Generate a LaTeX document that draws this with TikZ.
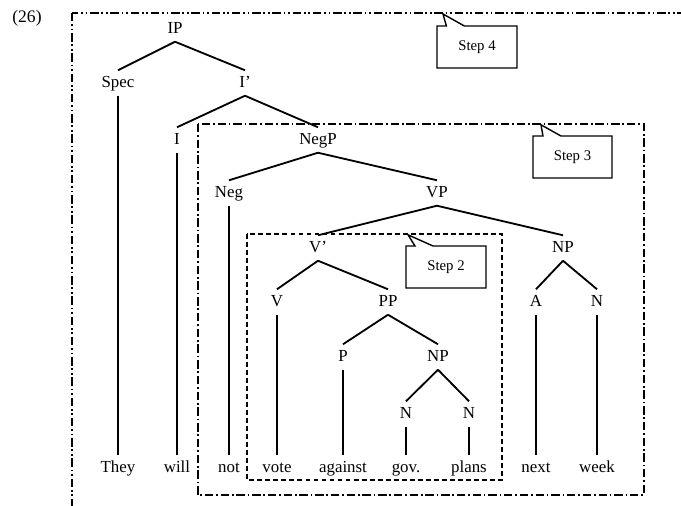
\documentclass[tikz,border=0pt]{standalone}
\usepackage{fontspec}
\setmainfont{Liberation Serif}
\usetikzlibrary{positioning,shapes.callouts}

\begin{document}
\begin{tikzpicture}[node distance=1.35cm,
    cat/.style={inner xsep=1pt, inner ysep=4.5pt, text height=1.6ex, text depth=0.3ex, font=\fontsize{12}{14}\selectfont},
    branch/.style={line width=1.3pt},
    stepnote/.style={rectangle callout, draw, line width=1pt, minimum width=2cm, minimum height=1.05cm, callout pointer width=0.45cm, font=\fontsize{10.5}{12}\selectfont},
    stepfourbox/.style={line width=1.4pt, dash pattern=on 6pt off 2pt on 1.2pt off 2pt on 1.2pt off 2pt},
    stepthreebox/.style={line width=1.3pt, dash pattern=on 6pt off 2pt on 1.2pt off 2pt},
    steptwobox/.style={line width=1.2pt, dash pattern=on 3.5pt off 2.2pt}]

\useasboundingbox (0,0) rectangle (17.025,-12.65);
\clip (0,0) rectangle (17.025,-12.65);

% Example number and root
\node[font=\fontsize{12.5}{14}\selectfont] (ex) at (0.675,-0.45) {(26)};
\node[cat] (IP) at (4.375,-0.725) {IP};

% IP and I' levels
\node[cat, below of=IP, xshift=-1.425cm] (Spec) {Spec};
\node[cat, below of=IP, xshift=1.75cm] (Ibar) {I'};
\node[cat, below of=Ibar, node distance=1.425cm, xshift=-1.7cm] (I) {I};
\node[cat, below of=Ibar, node distance=1.425cm, xshift=1.825cm] (NegP) {NegP};

% NegP and VP
\node[cat, below of=NegP, node distance=1.325cm, xshift=-2.225cm] (Neg) {Neg};
\node[cat, below of=NegP, node distance=1.325cm, xshift=2.975cm] (VP) {VP};
\node[cat, below of=VP, node distance=1.375cm, xshift=-2.975cm] (Vbar) {V'};
\node[cat, below of=VP, node distance=1.375cm, xshift=3.15cm] (NPtime) {NP};

% V' and time NP
\node[cat, below of=Vbar, xshift=-1.025cm] (V) {V};
\node[cat, below of=Vbar, xshift=1.75cm] (PP) {PP};
\node[cat, below of=NPtime, xshift=-0.675cm] (A) {A};
\node[cat, below of=NPtime, xshift=0.85cm] (Nweek) {N};

% PP
\node[cat, below of=PP, node distance=1.375cm, xshift=-1.125cm] (P) {P};
\node[cat, below of=PP, node distance=1.375cm, xshift=1.25cm] (NPplans) {NP};
\node[cat, below of=NPplans, node distance=1.425cm, xshift=-0.8cm] (Ngov) {N};
\node[cat, below of=NPplans, node distance=1.425cm, xshift=0.775cm] (Nplans) {N};

% Words
\node[cat, below of=Spec, node distance=9.625cm] (they) {They};
\node[cat, below of=I, node distance=8.2cm] (will) {will};
\node[cat, below of=Neg, node distance=6.875cm] (not) {not};
\node[cat, below of=V, node distance=4.15cm] (vote) {vote};
\node[cat, below of=P, node distance=2.775cm] (against) {against};
\node[cat, below of=Ngov] (gov) {gov.};
\node[cat, below of=Nplans] (plans) {plans};
\node[cat, below of=A, node distance=4.15cm] (next) {next};
\node[cat, below of=Nweek, node distance=4.15cm] (week) {week};

% Branches
\draw[branch] (IP.south) -- (Spec.north);
\draw[branch] (IP.south) -- (Ibar.north);
\draw[branch] (Ibar.south) -- (I.north);
\draw[branch] (Ibar.south) -- (NegP.north);
\draw[branch] (NegP.south) -- (Neg.north);
\draw[branch] (NegP.south) -- (VP.north);
\draw[branch] (VP.south) -- (Vbar.north);
\draw[branch] (VP.south) -- (NPtime.north);
\draw[branch] (Vbar.south) -- (V.north);
\draw[branch] (Vbar.south) -- (PP.north);
\draw[branch] (NPtime.south) -- (A.north);
\draw[branch] (NPtime.south) -- (Nweek.north);
\draw[branch] (PP.south) -- (P.north);
\draw[branch] (PP.south) -- (NPplans.north);
\draw[branch] (NPplans.south) -- (Ngov.north);
\draw[branch] (NPplans.south) -- (Nplans.north);

% Lines down to the words
\draw[branch] (Spec.south) -- (they.north);
\draw[branch] (I.south) -- (will.north);
\draw[branch] (Neg.south) -- (not.north);
\draw[branch] (V.south) -- (vote.north);
\draw[branch] (P.south) -- (against.north);
\draw[branch] (Ngov.south) -- (gov.north);
\draw[branch] (Nplans.south) -- (plans.north);
\draw[branch] (A.south) -- (next.north);
\draw[branch] (Nweek.south) -- (week.north);

% Step boxes
\draw[stepfourbox] (1.8,-0.325) rectangle (17.6,-13.2);
\draw[stepthreebox] (4.95,-3.1) rectangle (16.1,-12.375);
\draw[steptwobox] (6.175,-5.85) rectangle (12.55,-12.0);

% Callouts
\node[stepnote, callout absolute pointer={(11.075,-0.35)}] (stepfour) at (11.925,-1.175) {Step 4};
\node[stepnote, minimum width=1.975cm, callout absolute pointer={(13.525,-3.12)}] (stepthree) at (14.3125,-3.925) {Step 3};
\node[stepnote, callout absolute pointer={(10.2,-5.87)}] (steptwo) at (11.15,-6.675) {Step 2};

\end{tikzpicture}
\end{document}
